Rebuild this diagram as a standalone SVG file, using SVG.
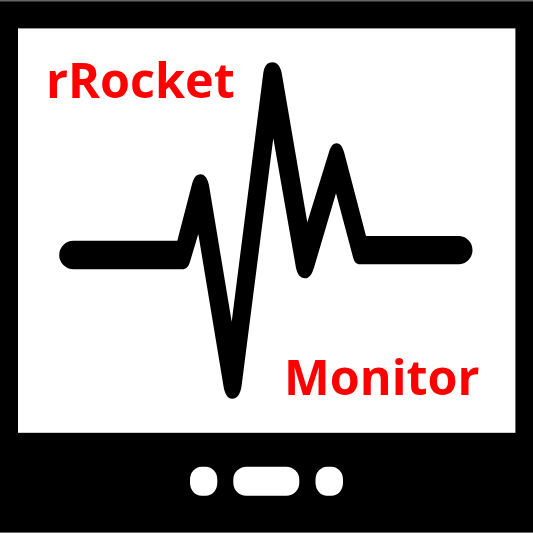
<svg xmlns="http://www.w3.org/2000/svg" width="533" height="533" viewBox="0 0 533 533">
<style>.t{font-family:"Open Sans","Noto Sans",sans-serif;font-weight:700;fill:#ff0000;font-size:48.5px}.b{fill:#fff}</style>
<rect x="0" y="0" width="533" height="533" fill="#000"/>
<rect x="0" y="0" width="533" height="1.5" fill="#666"/>
<rect x="0" y="532" width="533" height="1" fill="#666"/>
<rect x="18" y="28.4" width="497.4" height="404.4" fill="#fff"/>
<path fill="#000" d="M73.5 240.7 H177.3 L191.5 186 C193.5 178 196 174.3 200.5 174.3 C205 174.3 208 179 209.3 187 L231.7 321.7 L263.3 73 C264.5 66 267 62.3 272.3 62.3 C277.5 62.3 280.5 67 281.7 73 L307.3 222.3 L329 152 C331 146 333 143.3 336.7 143.3 C340.5 143.3 342.5 147 344.3 153 L366 236 H459.5 A14.2 14.2 0 0 1 459.5 264.3 H360 C356 264.3 354.5 262 353.3 258.3 L336 193.3 L314.3 266.7 C312 274 309.5 278.3 305 278.3 C300 278.3 297.5 274 296 268 L273.3 138.3 L241.7 385 C240.5 394 237.5 398.7 232.3 398.7 C227 398.7 224.5 393 223.3 385 L198.3 234 L190 261.7 C188.5 266.5 186.5 269.3 182 269.3 H73.5 A14.3 14.3 0 0 1 73.5 240.7 Z"/>
<rect class="b" x="190" y="466.7" width="27.3" height="29" rx="11.5" ry="13"/>
<rect class="b" x="233.3" y="466.7" width="66" height="29" rx="13" ry="13"/>
<rect class="b" x="315.5" y="466.7" width="27.5" height="29" rx="11.5" ry="13"/>
<text class="t" x="46" y="98.3">rRocket</text>
<text class="t" x="284" y="394.5">Monitor</text>
</svg>
